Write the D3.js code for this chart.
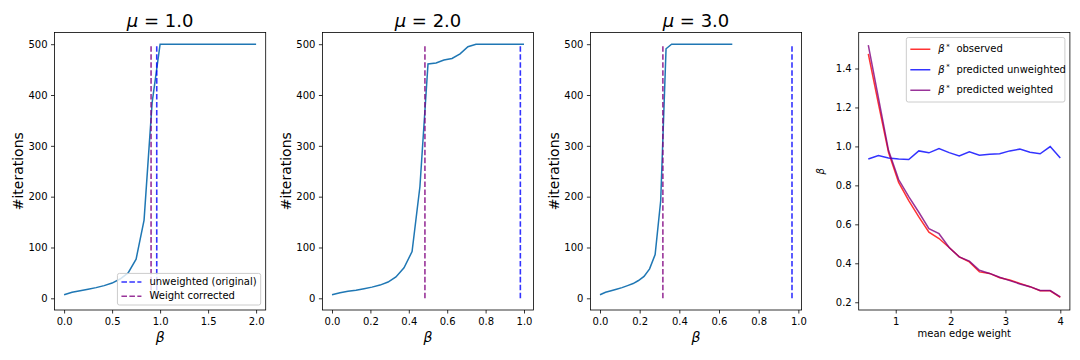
<!DOCTYPE html>
<html>
<head>
<meta charset="utf-8">
<script src="https://cdn.jsdelivr.net/npm/d3@7"></script>
<style>
  body { margin: 0; background: #fff; }
  svg text { font-family: "DejaVu Sans", sans-serif; }
</style>
</head>
<body>
<div id="chart"></div>
<script>
// iterations vs beta, one series per mu
var betaMu1 = [0, 0.083, 0.167, 0.25, 0.333, 0.417, 0.5, 0.583, 0.667, 0.75, 0.833, 0.917, 1.0,
  1.083, 1.167, 1.25, 1.333, 1.417, 1.5, 1.583, 1.667, 1.75, 1.833, 1.917, 2.0];
var itersMu1 = [7, 12, 15, 18, 21, 25, 30, 38, 50, 77, 154, 385, 500,
  500, 500, 500, 500, 500, 500, 500, 500, 500, 500, 500, 500];

var betaMu2 = [0, 0.042, 0.083, 0.125, 0.167, 0.208, 0.25, 0.292, 0.333, 0.375, 0.417, 0.458, 0.5,
  0.542, 0.583, 0.625, 0.667, 0.708, 0.75, 0.792, 0.833, 0.875, 0.917, 0.958, 1.0];
var itersMu2 = [7, 11, 14, 16, 19, 22, 26, 32, 42, 60, 92, 220, 461,
  463, 469, 472, 481, 495, 500, 500, 500, 500, 500, 500, 500];

var betaMu3 = [0, 0.028, 0.056, 0.083, 0.111, 0.139, 0.167, 0.194, 0.222, 0.25, 0.278, 0.306, 0.333,
  0.361, 0.389, 0.417, 0.444, 0.472, 0.5, 0.528, 0.556, 0.583, 0.611, 0.639, 0.667];
var itersMu3 = [7, 12, 15, 18, 21, 25, 29, 35, 43, 58, 86, 192, 491,
  500, 500, 500, 500, 500, 500, 500, 500, 500, 500, 500, 500];

var muLabels = ['1.0', '2.0', '3.0'];
var vlineUnweighted = [0.965, 0.981, 0.968];
var vlineWeighted = [0.906, 0.484, 0.317];
var xTicksMu1 = [0, 0.5, 1.0, 1.5, 2.0];
var xTicksMu23 = [0, 0.2, 0.4, 0.6, 0.8, 1.0];
var yTicksIter = [0, 100, 200, 300, 400, 500];
var legendIter = ['unweighted (original)', 'Weight corrected'];

// beta* vs mean edge weight
var meanWeight = [0.5, 0.684, 0.868, 1.053, 1.237, 1.421, 1.605, 1.789, 1.974, 2.158,
  2.342, 2.526, 2.711, 2.895, 3.079, 3.263, 3.447, 3.632, 3.816, 4.0];
var betaObserved = [1.475, 1.22, 0.97, 0.815, 0.722, 0.638, 0.56, 0.527, 0.481, 0.433,
  0.407, 0.356, 0.348, 0.326, 0.314, 0.297, 0.28, 0.259, 0.259, 0.225];
var betaPredUnweighted = [0.935, 0.953, 0.94, 0.935, 0.933, 0.977, 0.967, 0.989, 0.968, 0.951,
  0.972, 0.955, 0.96, 0.962, 0.977, 0.986, 0.97, 0.962, 0.999, 0.94];
var betaPredWeighted = [1.52, 1.25, 0.98, 0.83, 0.742, 0.662, 0.578, 0.552, 0.481, 0.433,
  0.411, 0.364, 0.348, 0.328, 0.311, 0.294, 0.28, 0.26, 0.26, 0.228];
var xTicksWeight = [1, 2, 3, 4];
var yTicksBeta = [0.2, 0.4, 0.6, 0.8, 1.0, 1.2, 1.4];
var legendBeta = ['observed', 'predicted unweighted', 'predicted weighted'];

// layout
var W = 1080, H = 360;
var axTop = 32.5, axBottom = 310, axWidth = 211.2;
var axLefts = [54.5, 322.4, 590.4, 858.7];
var font = '"DejaVu Sans", sans-serif';

var svg = d3.select('#chart').append('svg')
  .attr('width', W)
  .attr('height', H);

function styleAxis(sel) {
  sel.attr('font-family', font).attr('font-size', 10);
  sel.select('.domain').remove();
  sel.selectAll('.tick line').attr('stroke', '#000').attr('stroke-width', 0.8);
  sel.selectAll('.tick text').attr('fill', '#000');
}

function drawAxes(g, x, y, xTicks, xFmt, yTicks, yFmt) {
  g.append('g')
    .attr('transform', 'translate(0,' + axBottom + ')')
    .call(d3.axisBottom(x).tickValues(xTicks).tickFormat(xFmt)
      .tickSize(3.5).tickPadding(3.5).tickSizeOuter(0))
    .call(styleAxis)
    .selectAll('.tick text').attr('dy', '0.8em');
  g.append('g')
    .attr('transform', 'translate(' + x.range()[0] + ',0)')
    .call(d3.axisLeft(y).tickValues(yTicks).tickFormat(yFmt)
      .tickSize(3.5).tickPadding(3.5).tickSizeOuter(0))
    .call(styleAxis);
}

function drawFrame(g, left) {
  g.append('rect')
    .attr('x', left).attr('y', axTop)
    .attr('width', axWidth).attr('height', axBottom - axTop)
    .attr('fill', 'none')
    .attr('stroke', '#000')
    .attr('stroke-width', 0.8);
}

// legend: items = [{color, dash, off, label(fn filling the text)}]
function drawLegend(g, items, right, anchorY, fromTop, rowH) {
  var lg = g.append('g');
  var frame = lg.append('rect');
  var texts = [];
  items.forEach(function (it) {
    var t = lg.append('text')
      .attr('font-family', font)
      .attr('font-size', 10)
      .attr('fill', '#000');
    it.label(t);
    texts.push(t);
  });
  var tw = d3.max(texts, function (t) { return t.node().getComputedTextLength(); });
  var bw = 4 + 20 + 8 + tw + 4;
  var bh = 4 + items.length * rowH + (items.length - 1) * 5 + 4;
  var bx = right - bw;
  var by = fromTop ? anchorY : anchorY - bh;
  frame.attr('x', bx).attr('y', by)
    .attr('width', bw).attr('height', bh)
    .attr('rx', 2)
    .attr('fill', '#fff').attr('fill-opacity', 0.8)
    .attr('stroke', '#cccccc').attr('stroke-width', 1);
  items.forEach(function (it, i) {
    var cy = by + 4 + rowH / 2 + i * (rowH + 5);
    lg.append('line')
      .attr('x1', bx + 4).attr('x2', bx + 24)
      .attr('y1', cy).attr('y2', cy)
      .attr('stroke', it.color)
      .attr('stroke-opacity', 0.8)
      .attr('stroke-width', 1.5)
      .attr('stroke-dasharray', it.dash ? '5.55,2.4' : null);
    texts[i].attr('x', bx + 32).attr('y', cy + it.off);
  });
}

// panels 1-3: iterations vs beta
var iterPanels = [
  { beta: betaMu1, iters: itersMu1, ticks: xTicksMu1 },
  { beta: betaMu2, iters: itersMu2, ticks: xTicksMu23 },
  { beta: betaMu3, iters: itersMu3, ticks: xTicksMu23 }
];

iterPanels.forEach(function (p, i) {
  var left = axLefts[i];
  var xMax = Math.max(d3.max(p.beta), vlineUnweighted[i], vlineWeighted[i]);
  var pad = xMax * 0.05;
  var x = d3.scaleLinear().domain([-pad, xMax + pad]).range([left, left + axWidth]);
  var y = d3.scaleLinear().domain([-23, 523]).range([axBottom, axTop]);
  var g = svg.append('g');

  drawAxes(g, x, y, p.ticks, d3.format('.1f'), yTicksIter, d3.format('d'));

  var line = d3.line()
    .x(function (d) { return x(d[0]); })
    .y(function (d) { return y(d[1]); });

  g.append('path')
    .datum(d3.zip(p.beta, p.iters))
    .attr('d', line)
    .attr('fill', 'none')
    .attr('stroke', '#1f77b4')
    .attr('stroke-width', 1.5);

  [[vlineUnweighted[i], 'blue'], [vlineWeighted[i], 'purple']].forEach(function (v) {
    g.append('line')
      .attr('x1', x(v[0])).attr('x2', x(v[0]))
      .attr('y1', y(0)).attr('y2', y(500))
      .attr('stroke', v[1])
      .attr('stroke-opacity', 0.8)
      .attr('stroke-width', 1.6)
      .attr('stroke-dasharray', '5.55,2.4');
  });

  // title
  var cx = left + axWidth / 2;
  var title = g.append('text')
    .attr('x', cx).attr('y', 26.5)
    .attr('text-anchor', 'middle')
    .attr('font-family', font)
    .attr('font-size', 18)
    .attr('fill', '#000');
  title.append('tspan').attr('font-style', 'italic').text('\u03bc');
  title.append('tspan').text(' = ' + muLabels[i]);

  // axis labels
  g.append('text')
    .attr('x', cx).attr('y', 342.3)
    .attr('text-anchor', 'middle')
    .attr('font-family', font)
    .attr('font-size', 14)
    .attr('font-style', 'italic')
    .attr('fill', '#000')
    .text('\u03b2');
  g.append('text')
    .attr('transform', 'translate(' + (left - 31.5) + ',' + ((axTop + axBottom) / 2) + ') rotate(-90)')
    .attr('text-anchor', 'middle')
    .attr('font-family', font)
    .attr('font-size', 14)
    .attr('fill', '#000')
    .text('#iterations');

  if (i === 0) {
    drawLegend(g, [
      { color: 'blue', dash: true, off: 2.8, label: function (t) { t.text(legendIter[0]); } },
      { color: 'purple', dash: true, off: 2.8, label: function (t) { t.text(legendIter[1]); } }
    ], left + axWidth - 5, axBottom - 5, false, 9.3);
  }

  drawFrame(g, left);
});

// panel 4: beta* vs mean edge weight
(function () {
  var left = axLefts[3];
  var allB = betaObserved.concat(betaPredUnweighted, betaPredWeighted);
  var xr = d3.extent(meanWeight), yr = d3.extent(allB);
  var xp = (xr[1] - xr[0]) * 0.05, yp = (yr[1] - yr[0]) * 0.05;
  var x = d3.scaleLinear().domain([xr[0] - xp, xr[1] + xp]).range([left, left + axWidth]);
  var y = d3.scaleLinear().domain([yr[0] - yp, yr[1] + yp]).range([axBottom, axTop]);
  var g = svg.append('g');

  drawAxes(g, x, y, xTicksWeight, d3.format('d'), yTicksBeta, d3.format('.1f'));

  var line = d3.line()
    .x(function (d) { return x(d[0]); })
    .y(function (d) { return y(d[1]); });

  [[betaObserved, 'red'], [betaPredUnweighted, 'blue'], [betaPredWeighted, 'purple']].forEach(function (s) {
    g.append('path')
      .datum(d3.zip(meanWeight, s[0]))
      .attr('d', line)
      .attr('fill', 'none')
      .attr('stroke', s[1])
      .attr('stroke-opacity', 0.8)
      .attr('stroke-width', 1.5);
  });

  g.append('text')
    .attr('x', left + axWidth / 2).attr('y', 336.5)
    .attr('text-anchor', 'middle')
    .attr('font-family', font)
    .attr('font-size', 10)
    .attr('fill', '#000')
    .text('mean edge weight');
  g.append('text')
    .attr('transform', 'translate(824,' + ((axTop + axBottom) / 2) + ') rotate(-90)')
    .attr('text-anchor', 'middle')
    .attr('font-family', font)
    .attr('font-size', 10)
    .attr('font-style', 'italic')
    .attr('fill', '#000')
    .text('\u03b2');

  function betaStar(rest) {
    return function (t) {
      t.append('tspan').attr('font-style', 'italic').text('\u03b2');
      t.append('tspan').attr('font-size', 7).attr('dy', -3.5).attr('dx', 1.5).text('*');
      t.append('tspan').attr('dy', 3.5).attr('dx', 3.5).text(' ' + rest);
    };
  }

  drawLegend(g, [
    { color: 'red', off: 3.2, label: betaStar(legendBeta[0]) },
    { color: 'blue', off: 3.2, label: betaStar(legendBeta[1]) },
    { color: 'purple', off: 3.2, label: betaStar(legendBeta[2]) }
  ], left + axWidth - 5, axTop + 5, true, 15.5);

  drawFrame(g, left);
})();
</script>
</body>
</html>
